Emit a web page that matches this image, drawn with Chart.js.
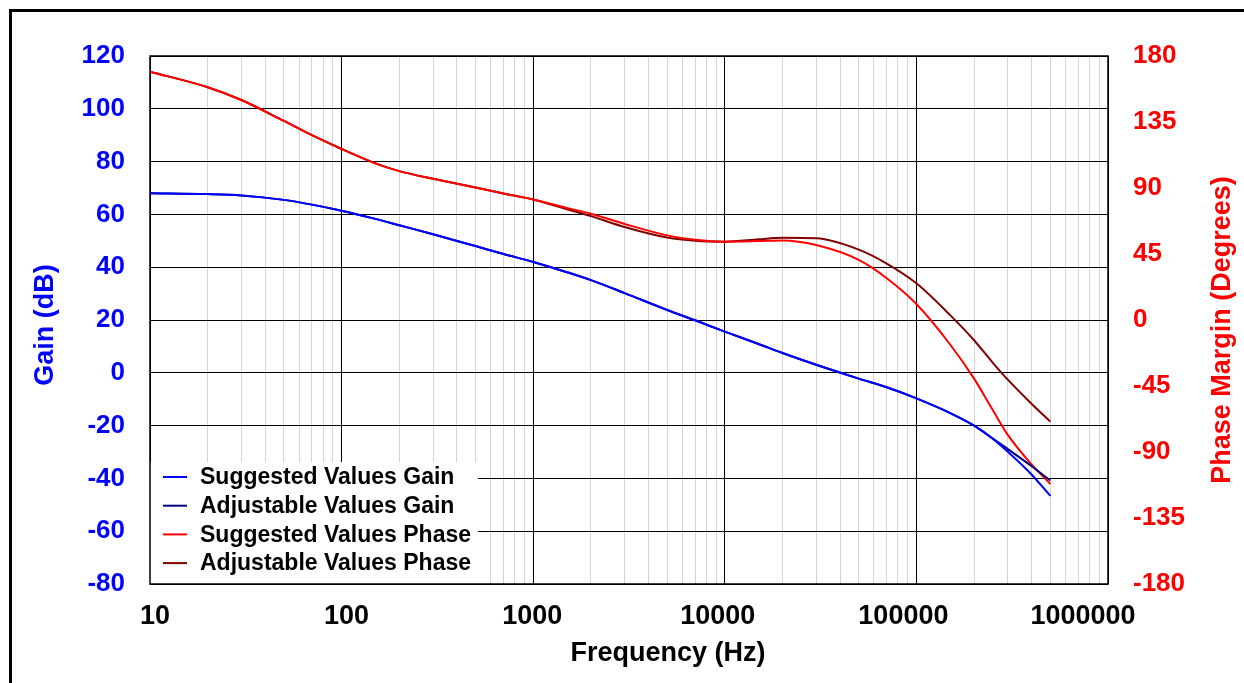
<!DOCTYPE html>
<html>
<head>
    <meta charset="UTF-8">
    <title>Gain / Phase</title>
    <script src="https://cdn.jsdelivr.net/npm/chart.js"></script>
    <style>
        body { margin: 0; background: #fff; }
        canvas { display: block; }
    </style>
</head>
<body>
    <canvas id="myChart" width="1244" height="683"></canvas>

    <script>
        // frequency points (Hz)
        var freqs = [10, 20, 30, 50, 70, 100, 150, 200, 300, 500, 700, 1000, 1500, 2000, 3000,
            5000, 7000, 10000, 15000, 20000, 30000, 50000, 70000, 100000, 150000, 200000,
            250000, 300000, 400000, 500000];

        // gain (dB)
        var suggestedGain = [68.0, 67.7, 67.2, 65.5, 63.7, 61.4, 58.3, 55.9, 52.5, 48.0, 45.0, 42.0, 38.1, 35.1, 30.2,
            23.8, 19.9, 15.6, 10.9, 7.5, 3.05, -2.2, -5.5, -9.7, -15.25, -20.0,
            -24.95, -29.9, -38.6, -46.6];
        var adjustableGain = [68.0, 67.7, 67.2, 65.5, 63.7, 61.4, 58.3, 55.9, 52.5, 48.0, 45.0, 42.0, 38.1, 35.1, 30.2,
            23.8, 19.9, 15.6, 10.9, 7.5, 3.05, -2.2, -5.5, -9.7, -15.25, -20.0,
            -24.8, -28.9, -35.4, -40.8];

        // phase margin (degrees)
        var suggestedPhase = [169.3, 158.7, 150, 135.7, 126, 116.6, 106.8, 101.5, 96.3, 90.3, 86.3, 82.2, 76.4, 72.5, 65.5,
            57.7, 54.7, 53.4, 53.8, 54.2, 51.1, 41.0, 28.5, 10.9, -16.7, -40.0,
            -61.2, -78.3, -98.6, -111.8];
        var adjustablePhase = [169.3, 158.7, 150, 135.7, 126, 116.6, 106.8, 101.5, 96.3, 90.3, 86.3, 82.2, 75.5, 70.8, 63.4,
            56.2, 54.0, 53.4, 55.0, 56.1, 55.7, 48.0, 38.5, 25.0, 3.3, -13.8,
            -29, -40.7, -57.3, -69.3];

        // labelled decades on the frequency axis
        var freqLabels = [10, 100, 1000, 10000, 100000, 1000000];

        var legendLabels = ['Suggested Values Gain', 'Adjustable Values Gain', 'Suggested Values Phase', 'Adjustable Values Phase'];
        var lineColors = ['#0000ff', '#000080', '#ff0000', '#800000'];

        function pairs(ys) {
            var out = [];
            for (var i = 0; i < freqs.length; i++) {
                out.push({ x: freqs[i], y: ys[i] });
            }
            return out;
        }

        function isDecade(v) {
            var l = Math.log10(v);
            return Math.abs(l - Math.round(l)) < 1e-9;
        }

        var fontFamily = '"Liberation Sans", Arial, sans-serif';
        // the original packs the decade labels slightly inwards
        var labelShift = [5, 5, -1, -7, -13, -25];

        // legend box inside the plot, axis titles, plot border and outer frame
        var framePlugin = {
            id: 'frame',
            afterDraw: function (chart) {
                var ctx = chart.ctx;
                var a = chart.chartArea;
                var xs = chart.scales.x;
                ctx.save();

                // frequency labels
                ctx.font = 'bold 27px ' + fontFamily;
                ctx.textAlign = 'center';
                ctx.textBaseline = 'middle';
                ctx.fillStyle = '#000';
                for (var k = 0; k < freqLabels.length; k++) {
                    ctx.fillText(String(freqLabels[k]), xs.getPixelForValue(freqLabels[k]) + labelShift[k], 617);
                }

                ctx.fillStyle = '#ffffff';
                ctx.fillRect(a.left, 462, 328, a.bottom - 462);
                ctx.font = 'bold 23px ' + fontFamily;
                ctx.textAlign = 'left';
                for (var i = 0; i < legendLabels.length; i++) {
                    var y = 477 + i * 28.7;
                    ctx.strokeStyle = lineColors[i];
                    ctx.lineWidth = 2;
                    ctx.beginPath();
                    ctx.moveTo(a.left + 13, y);
                    ctx.lineTo(a.left + 37, y);
                    ctx.stroke();
                    ctx.fillStyle = '#000';
                    ctx.fillText(legendLabels[i], a.left + 50, y + 1);
                }

                // axis titles
                ctx.font = 'bold 27px ' + fontFamily;
                ctx.textAlign = 'center';
                ctx.fillStyle = '#000';
                ctx.fillText('Frequency (Hz)', 668, 654);
                ctx.save();
                ctx.translate(46, 325);
                ctx.rotate(-Math.PI / 2);
                ctx.fillStyle = '#0000ff';
                ctx.fillText('Gain (dB)', 0, 0);
                ctx.restore();
                ctx.save();
                ctx.translate(1223, 330);
                ctx.rotate(-Math.PI / 2);
                ctx.fillStyle = '#ff0000';
                ctx.fillText('Phase Margin (Degrees)', 0, 0);
                ctx.restore();

                ctx.strokeStyle = '#000';
                ctx.lineWidth = 1.5;
                ctx.strokeRect(a.left, a.top, a.right - a.left, a.bottom - a.top);
                ctx.lineWidth = 3;
                ctx.beginPath();
                ctx.moveTo(10.5, 700);
                ctx.lineTo(10.5, 10.5);
                ctx.lineTo(1260, 10.5);
                ctx.stroke();
                ctx.restore();
            }
        };

        var tickFont = { family: fontFamily, size: 26, weight: 'bold' };

        var ctx = document.getElementById('myChart').getContext('2d');
        var myChart = new Chart(ctx, {
            type: 'line',
            data: {
                datasets: [
                    { label: legendLabels[0], data: pairs(suggestedGain), borderColor: lineColors[0], yAxisID: 'y' },
                    { label: legendLabels[1], data: pairs(adjustableGain), borderColor: lineColors[1], yAxisID: 'y' },
                    { label: legendLabels[2], data: pairs(suggestedPhase), borderColor: lineColors[2], yAxisID: 'y2' },
                    { label: legendLabels[3], data: pairs(adjustablePhase), borderColor: lineColors[3], yAxisID: 'y2' }
                ]
            },
            options: {
                responsive: false,
                animation: false,
                layout: { padding: { top: 56 } },
                elements: {
                    point: { radius: 0 },
                    line: { borderWidth: 2, cubicInterpolationMode: 'monotone', fill: false }
                },
                plugins: {
                    legend: { display: false },
                    tooltip: { enabled: false }
                },
                scales: {
                    x: {
                        type: 'logarithmic',
                        min: 10,
                        max: 1000000,
                        afterBuildTicks: function (scale) {
                            var t = [];
                            for (var d = 10; d < 1000000; d *= 10) {
                                for (var m = 1; m < 10; m++) t.push({ value: d * m });
                            }
                            t.push({ value: 1000000 });
                            scale.ticks = t;
                        },
                        afterFit: function (scale) { scale.height = 99; },
                        ticks: { display: false, autoSkip: false },
                        grid: {
                            drawTicks: false,
                            lineWidth: 1,
                            color: function (c) {
                                return c.tick && isDecade(c.tick.value) ? '#000000' : '#d4d4d4';
                            }
                        },
                        border: { display: false }
                    },
                    y: {
                        position: 'left',
                        min: -80,
                        max: 120,
                        afterFit: function (scale) { scale.width = 150; },
                        ticks: { stepSize: 20, padding: 25, color: '#0000ff', font: tickFont },
                        grid: { drawTicks: false, color: '#000', lineWidth: 1 },
                        border: { display: false }
                    },
                    y2: {
                        position: 'right',
                        min: -180,
                        max: 180,
                        afterFit: function (scale) { scale.width = 136; },
                        ticks: { stepSize: 45, padding: 25, color: '#ff0000', font: tickFont },
                        grid: { drawTicks: false, drawOnChartArea: false },
                        border: { display: false }
                    }
                }
            },
            plugins: [framePlugin]
        });
    </script>
</body>
</html>
